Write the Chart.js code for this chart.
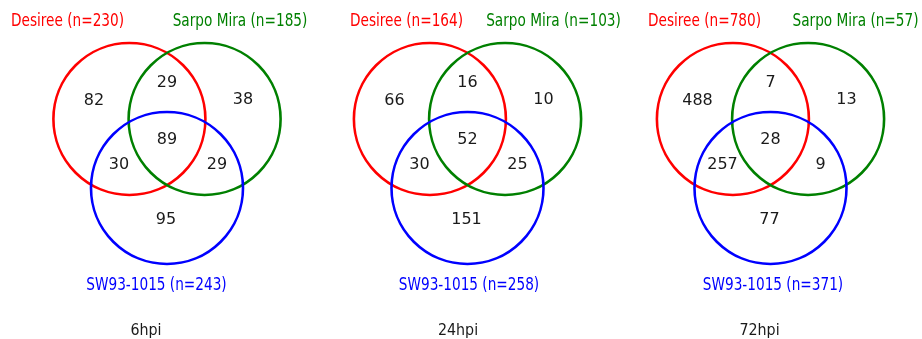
<!DOCTYPE html>
<html lang="en">
 <head>
  <meta charset="UTF-8" />
  <title>Venn - DEGs per genotype</title>
  <style>
   * {
    padding: 0;
    margin: 0;
    box-sizing: border-box;
   }
   body {
    background: #ffffff;
   }
   .wrapper {
    width: 922px;
    height: 339px;
    position: relative;
   }
  </style>
 </head>
 <body>
  <div class="wrapper">
   <canvas id="venn"></canvas>
  </div>

  <script src="https://cdn.jsdelivr.net/npm/chart.js@4.4.1/dist/chart.umd.min.js"></script>
  <script>
   // time points and genotypes
   const timepoints = ['6hpi', '24hpi', '72hpi']
   const setNames = ['Desiree', 'Sarpo Mira', 'SW93-1015']

   // totals per genotype
   const desireeTotal = [230, 164, 780]
   const sarpoTotal = [185, 103, 57]
   const swTotal = [243, 258, 371]

   // region counts
   const onlyDesiree = [82, 66, 488]
   const onlySarpo = [38, 10, 13]
   const onlySW = [95, 151, 77]
   const desireeSarpo = [29, 16, 7]
   const desireeSW = [30, 30, 257]
   const sarpoSW = [29, 25, 9]
   const allThree = [89, 52, 28]

   const setColors = ['#ff0000', '#008000', '#0000ff']

   // layout (in canvas units, x: 0..922, y: 0..339)
   const panelX = [167, 467.5, 770.5]
   const circleRow = 119
   const R = 76
   const circleDx = [-37.6, 37.6, 0]
   const circleDy = [0, 0, 69]

   // where each region count sits relative to the panel
   const regionSpots = [
    { vals: onlyDesiree, dx: -73, dy: -18 },
    { vals: desireeSarpo, dx: 0, dy: -36 },
    { vals: onlySarpo, dx: 76, dy: -19 },
    { vals: allThree, dx: 0, dy: 21 },
    { vals: desireeSW, dx: -48, dy: 46 },
    { vals: sarpoSW, dx: 50, dy: 46 },
    { vals: onlySW, dx: -1, dy: 101 }
   ]

   // set label positions per panel (x offset from panel centre)
   const labelDx = [
    [-99.5, 73, -10.5],
    [-61, 86, 1.5],
    [-66, 85, 2.5]
   ]
   const labelY = [21, 21, 285]
   const titleDx = [-21, -9.5, -11]
   const titleY = 331

   const totals = [desireeTotal, sarpoTotal, swTotal]

   const circleSets = setNames.map((name, s) => ({
    label: name,
    data: panelX.map(px => ({ x: px + circleDx[s], y: circleRow + circleDy[s] })),
    borderColor: setColors[s],
    backgroundColor: 'rgba(0,0,0,0)',
    borderWidth: 2.6,
    pointRadius: ctx => {
     const xs = ctx.chart.scales.x
     return xs.getPixelForValue(R) - xs.getPixelForValue(0)
    },
    pointHoverRadius: 0,
    order: 3 - s,
    clip: false
   }))

   const drawText = (ctx, text, x, y, font, color, sx) => {
    ctx.save()
    ctx.font = font
    ctx.fillStyle = color
    ctx.textAlign = 'center'
    ctx.textBaseline = 'middle'
    ctx.translate(x, y)
    ctx.scale(sx, 1)
    ctx.fillText(text, 0, 0)
    ctx.restore()
   }

   // counts, set names and time point titles
   const vennText = {
    id: 'vennText',
    afterDatasetsDraw(chart) {
     const { ctx, scales } = chart
     const xs = scales.x
     const ys = scales.y
     panelX.forEach((cx, p) => {
      regionSpots.forEach(spot => {
       drawText(
        ctx,
        String(spot.vals[p]),
        xs.getPixelForValue(cx + spot.dx),
        ys.getPixelForValue(circleRow + spot.dy),
        '16px "DejaVu Sans"',
        '#1a1a1a',
        1
       )
      })
      setNames.forEach((name, s) => {
       drawText(
        ctx,
        name + ' (n=' + totals[s][p] + ')',
        xs.getPixelForValue(cx + labelDx[p][s]),
        ys.getPixelForValue(labelY[s]),
        '17.5px "DejaVu Sans"',
        setColors[s],
        0.78
       )
      })
      drawText(
       ctx,
       timepoints[p],
       xs.getPixelForValue(cx + titleDx[p]),
       ys.getPixelForValue(titleY),
       '15px "DejaVu Sans"',
       '#1a1a1a',
       0.95
      )
     })
    }
   }

   new Chart(document.getElementById('venn'), {
    type: 'scatter',
    data: { datasets: circleSets },
    plugins: [vennText],
    options: {
     responsive: true,
     maintainAspectRatio: false,
     animation: false,
     events: [],
     layout: { padding: 0 },
     plugins: {
      legend: { display: false },
      tooltip: { enabled: false }
     },
     scales: {
      x: { type: 'linear', min: 0, max: 922, display: false },
      y: { type: 'linear', min: 0, max: 339, reverse: true, display: false }
     }
    }
   })
  </script>
 </body>
</html>
